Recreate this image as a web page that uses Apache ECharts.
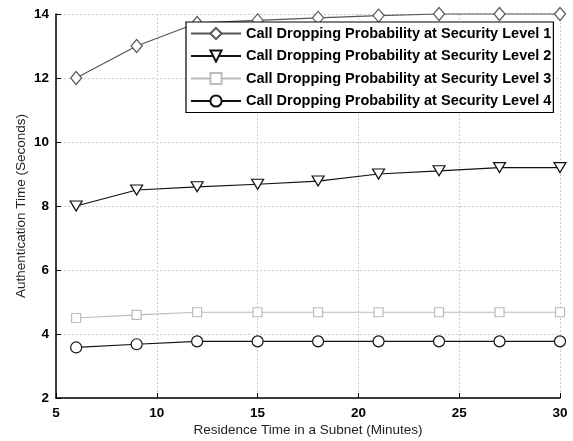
<!DOCTYPE html>
<html>
<head>
<meta charset="utf-8">
<script src="https://cdn.jsdelivr.net/npm/echarts@6/dist/echarts.min.js"></script>
<style>
  html, body { margin: 0; padding: 0; background: #fff; }
  #chart { width: 573px; height: 441px; }
</style>
</head>
<body>
<div id="chart"></div>
<script>
// residence time (minutes)
const residence = [6, 9, 12, 15, 18, 21, 24, 27, 30]
// authentication time per security level (seconds)
const level1 = [12, 13, 13.72, 13.8, 13.88, 13.95, 14, 14, 14]
const level2 = [8, 8.5, 8.6, 8.68, 8.78, 9.0, 9.1, 9.2, 9.2]
const level3 = [4.5, 4.6, 4.68, 4.68, 4.68, 4.68, 4.68, 4.68, 4.68]
const level4 = [3.58, 3.68, 3.77, 3.77, 3.77, 3.77, 3.77, 3.77, 3.77]
const seriesNames = [
  'Call Dropping Probability at Security Level 1',
  'Call Dropping Probability at Security Level 2',
  'Call Dropping Probability at Security Level 3',
  'Call Dropping Probability at Security Level 4'
]

const pairs = (ys) => residence.map((x, i) => [x, ys[i]])

const chart = echarts.init(document.getElementById('chart'))

const mkSeries = (name, ys, symbol, size, color, rotate) => ({
  name,
  type: 'line',
  data: pairs(ys),
  symbol,
  symbolSize: size,
  symbolRotate: rotate || 0,
  showAllSymbol: true,
  clip: false,
  lineStyle: { color, width: 1.2 },
  itemStyle: { color: '#fff', borderColor: color, borderWidth: 1.2 },
  emphasis: { disabled: true },
  animation: false
})

const nameFont = { fontSize: 13.5, color: '#222', fontFamily: 'Liberation Sans' }

const option = {
  backgroundColor: '#fff',
  textStyle: { fontFamily: 'Liberation Sans' },
  grid: { left: 56, right: 13, top: 14, bottom: 43, containLabel: false, outerBoundsMode: 'none' },
  legend: {
    orient: 'vertical',
    left: 186,
    top: 22,
    padding: [4, 2, 4, 4],
    itemWidth: 50,
    itemHeight: 14,
    itemGap: 7.5,
    backgroundColor: '#fff',
    borderColor: '#000',
    borderWidth: 1.2,
    borderRadius: 0,
    textStyle: { fontSize: 14.5, fontWeight: 'bold', color: '#000', fontFamily: 'Liberation Sans' },
    data: seriesNames
  },
  xAxis: {
    type: 'value',
    min: 5,
    max: 30,
    interval: 5,
    name: 'Residence Time in a Subnet (Minutes)',
    nameLocation: 'middle',
    nameGap: 25,
    nameMoveOverlap: false,
    nameTextStyle: nameFont,
    axisLine: { show: true, lineStyle: { color: '#000', width: 1.5 } },
    axisTick: { show: true, inside: true, length: 5, lineStyle: { color: '#000' } },
    axisLabel: { fontSize: 13.5, fontWeight: 'bold', color: '#000', margin: 8 },
    splitLine: { show: true, lineStyle: { color: '#ccc', type: [2, 2] } }
  },
  yAxis: {
    type: 'value',
    min: 2,
    max: 14,
    interval: 2,
    name: 'Authentication Time (Seconds)',
    nameLocation: 'middle',
    nameGap: 28,
    nameMoveOverlap: false,
    nameTextStyle: nameFont,
    axisLine: { show: true, lineStyle: { color: '#000', width: 1.5 } },
    axisTick: { show: true, inside: true, length: 5, lineStyle: { color: '#000' } },
    axisLabel: { fontSize: 13.5, fontWeight: 'bold', color: '#000', margin: 7 },
    splitLine: { show: true, lineStyle: { color: '#ccc', type: [2, 2] } }
  },
  series: [
    mkSeries(seriesNames[0], level1, 'diamond', [11, 13], '#555'),
    mkSeries(seriesNames[1], level2, 'triangle', [12, 10], '#111', 180),
    mkSeries(seriesNames[2], level3, 'rect', 9, '#bbb'),
    mkSeries(seriesNames[3], level4, 'circle', 11, '#111')
  ]
}

chart.setOption(option)
</script>
</body>
</html>
